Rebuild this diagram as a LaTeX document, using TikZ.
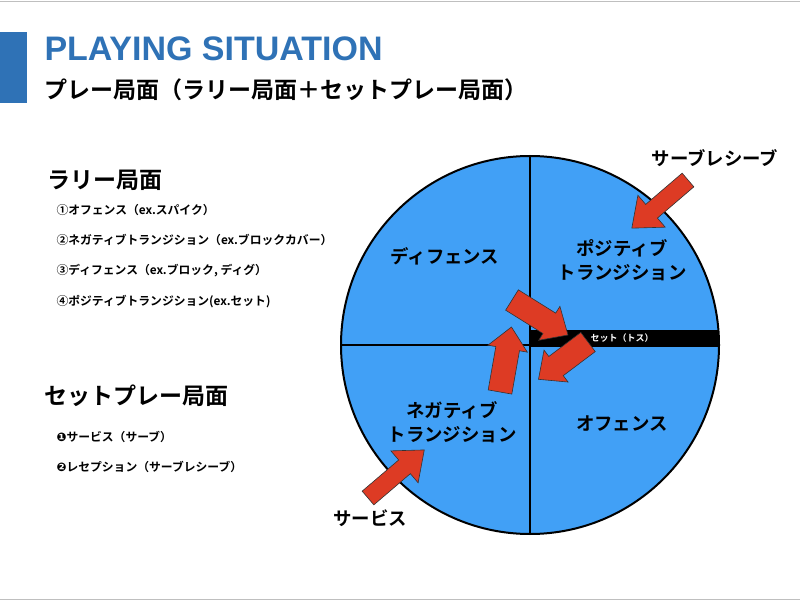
\documentclass[tikz,border=0pt]{standalone}
\usepackage{fontspec}
\setmainfont{Liberation Sans}
\newfontfamily\jp{Noto Sans CJK JP}[BoldFont={* Bold}]
\newfontfamily\djsym{DejaVu Sans}
\definecolor{ttlblue}{HTML}{2F72B6}
\definecolor{courtblue}{HTML}{41A0F6}
\definecolor{arrred}{HTML}{DD3B24}
\begin{document}
\begin{tikzpicture}[x=1pt,y=-1pt,
  lbl/.style={font=\jp\bfseries\fontsize{18.4}{24}\selectfont,align=center},
  item/.style={font=\jp\bfseries\fontsize{11.8}{13}\selectfont,anchor=west},
  head/.style={font=\jp\bfseries\fontsize{23}{26}\selectfont,anchor=west},
  pics/bigarrow/.style n args={4}{code={
    \fill[arrred,draw=black!80,line width=0.6pt] (0,-#2)--(#1-#4,-#2)--(#1-#4,-#3)--(#1,0)--(#1-#4,#3)--(#1-#4,#2)--(0,#2)--cycle;}}]
\useasboundingbox (0,0) rectangle (800,601);
\draw[black!25] (0,1)--(800,1) (0,599)--(800,599);
\fill[ttlblue] (0,32) rectangle (27,103);
\node[anchor=west,text=ttlblue,font=\bfseries\fontsize{34}{38}\selectfont] (t1) at (41,49) {PLAYING SITUATION};
\node[anchor=west,font=\jp\bfseries\fontsize{23}{26}\selectfont] (t2) at (41,90) {プレー局面（ラリー局面＋セットプレー局面）};
% circle
\fill[courtblue,draw=black,line width=2pt] (530,345) circle (189);
\coordinate (ctop) at (530,156); \coordinate (cbot) at (530,534);
\coordinate (cl) at (341,345); \coordinate (cr) at (719,345);
\draw[line width=1.5pt] (ctop)--(cbot) (cl)--(cr);
\fill[black] (530,330) rectangle (719,347);
\node[text=white,font=\jp\bfseries\fontsize{9}{10}\selectfont] (set) at (622,338) {セット（トス）};
% recycle arrows
\pic[rotate=-32] at (512,300) {bigarrow={66}{12}{20}{22}};
\pic[rotate=217] at (588,342) {bigarrow={62}{12}{20}{22}};
\pic[rotate=80] at (500,392) {bigarrow={66}{12}{20}{22}};
% big arrows
\pic[rotate=220.6] at (688,180) {bigarrow={74}{9}{21}{26}};
\pic[rotate=40.5] at (368,498) {bigarrow={74}{9}{21}{26}};
% labels
\node[lbl] (def) at (445,256) {ディフェンス};
\node[lbl] (pos) at (622,260) {ポジティブ\\トランジション};
\node[lbl] (neg) at (452,422) {ネガティブ\\トランジション};
\node[lbl] (off) at (622,424) {オフェンス};
\node[lbl] (rcv) at (715,158) {サーブレシーブ};
\node[lbl] (srv) at (370,518) {サービス};
% left text
\node[head] (h1) at (44,180) {ラリー局面};
\node[item] (i1) at (53,210) {①オフェンス（ex.スパイク）};
\node[item] (i2) at (53,240) {②ネガティブトランジション（ex.ブロックカバー）};
\node[item] (i3) at (53,271) {③ディフェンス（ex.ブロック, ディグ）};
\node[item] (i4) at (53,302) {④ポジティブトランジション(ex.セット)};
\node[head] (h2) at (41,396) {セットプレー局面};
\node[item] (j1) at (53,437) {{\djsym ❶}サービス（サーブ）};
\node[item] (j2) at (53,467) {{\djsym ❷}レセプション（サーブレシーブ）};
\end{tikzpicture}
\end{document}
